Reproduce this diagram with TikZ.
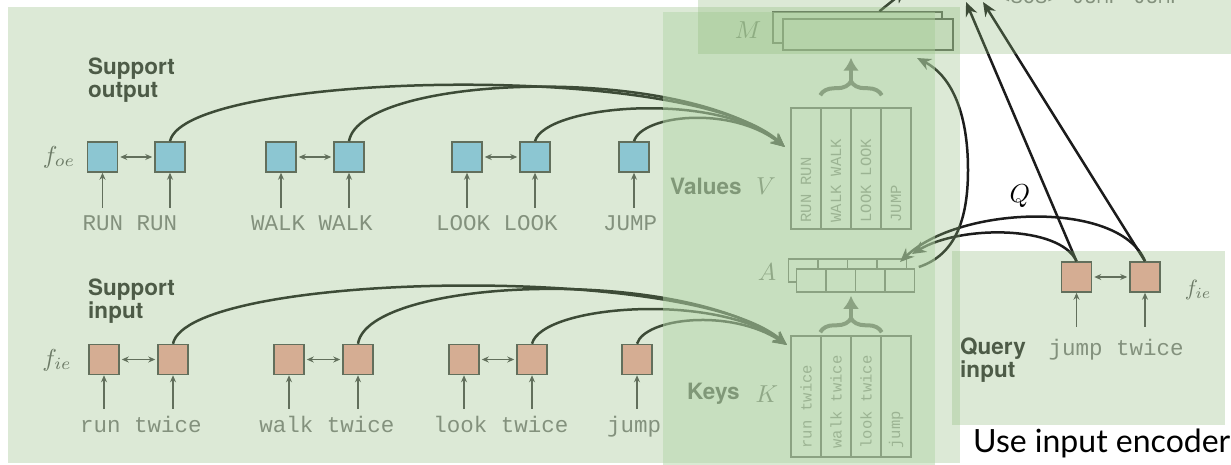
\documentclass[tikz,border=0pt]{standalone}
\usepackage{fontspec}
\newfontfamily\heros{TeX Gyre Heros}
\newfontfamily\monofont{Liberation Mono}
\newfontfamily\slidefont{Lato}
\usetikzlibrary{arrows.meta,decorations.pathreplacing,calc}

\definecolor{washgreen}{RGB}{140,185,120}
\definecolor{memgreen}{RGB}{180,214,169}
\definecolor{outblue}{RGB}{140,204,250}
\definecolor{insalmon}{RGB}{245,168,160}
\definecolor{tokgray}{RGB}{128,128,128}
\definecolor{inkgray}{RGB}{51,51,51}
\definecolor{edgegray}{RGB}{80,80,80}
\definecolor{symgray}{RGB}{95,95,95}
\definecolor{linkink}{RGB}{28,28,28}

\tikzset{
  cell/.style={draw=edgegray, line width=1.5pt, minimum width=30pt, minimum height=30pt, inner sep=0pt},
  outcell/.style={cell, fill=outblue},
  incell/.style={cell, fill=insalmon},
  tok/.style={font=\monofont\fontsize{22.5}{26}\selectfont, text=tokgray, inner sep=0pt, text height=14pt, text depth=4pt, anchor=base},
  colcell/.style={draw=edgegray, line width=1.5pt, fill=white, minimum width=30pt, minimum height=121pt, inner sep=0pt},
  coltok/.style={font=\monofont\fontsize{15.5}{18}\selectfont, text=tokgray, rotate=90, anchor=west, inner sep=0pt},
  grp/.style={font=\heros\bfseries\fontsize{22.5}{23.5}\selectfont, text=inkgray, align=left, anchor=west, inner sep=0pt},
  sym/.style={scale=2.45, text=symgray, inner sep=0pt},
  feed/.style={draw=edgegray, line width=1.5pt, -{Stealth[length=7pt,width=6pt]}},
  pair/.style={draw=edgegray, line width=1.5pt, {Stealth[length=7pt,width=6pt]}-{Stealth[length=7pt,width=6pt]}, shorten <=2pt, shorten >=2pt},
  link/.style={draw=linkink, line width=2.5pt, -{Stealth[length=14pt,width=12pt]}},
  gather/.style={draw=edgegray, line width=4pt, decorate, decoration={brace, amplitude=14pt}},
  lift/.style={draw=edgegray, line width=4pt, -{Latex[length=13pt,width=16pt]}},
  slot/.style={draw=edgegray, line width=1.5pt, fill=white, minimum width=29.5pt, minimum height=23pt, inner sep=0pt},
  wash/.style={fill=washgreen, fill opacity=0.3},
}

\begin{document}
\begin{tikzpicture}[x=1pt,y=-1pt]
\useasboundingbox (0,0) rectangle (1231,465);
\fill[white] (0,0) rectangle (1231,465);

% ---------- support output encoder ----------
\node[grp] (suplabel) at (88,80) {Support\\output};
\node[sym] (foe) at (59,157) {$f_{oe}$};
\node[outcell] (o1) at (102.5,157) {};
\node[outcell] (o2) at (170,157) {};
\node[outcell] (o3) at (281,157) {};
\node[outcell] (o4) at (349,157) {};
\node[outcell] (o5) at (467,157) {};
\node[outcell] (o6) at (535,157) {};
\node[outcell] (o7) at (634,157) {};
\draw[pair] (o1) -- (o2);
\draw[pair] (o3) -- (o4);
\draw[pair] (o5) -- (o6);

\node[tok] (tRR) at (130,230) {RUN RUN};
\node[tok] (tWW) at (312,230) {WALK WALK};
\node[tok] (tLL) at (497,230) {LOOK LOOK};
\node[tok] (tJ) at (630,230) {JUMP};
\foreach \t/\b in {tRR/o1,tRR/o2,tWW/o3,tWW/o4,tLL/o5,tLL/o6,tJ/o7}
  \draw[feed, shorten <=8pt] (\t.north -| \b) -- (\b.south);

% ---------- support input encoder ----------
\node[grp] (inlabel) at (88,301) {Support\\input};
\node[sym] (fie) at (57,360) {$f_{ie}$};
\node[incell] (i1) at (104,359.5) {};
\node[incell] (i2) at (173,359.5) {};
\node[incell] (i3) at (289,359.5) {};
\node[incell] (i4) at (358,359.5) {};
\node[incell] (i5) at (464,359.5) {};
\node[incell] (i6) at (532,359.5) {};
\node[incell] (i7) at (637,359.5) {};
\draw[pair] (i1) -- (i2);
\draw[pair] (i3) -- (i4);
\draw[pair] (i5) -- (i6);

\node[tok] (trt) at (141,432) {run twice};
\node[tok] (twt) at (327,432) {walk twice};
\node[tok] (tlt) at (501,432) {look twice};
\node[tok] (tj) at (634,432) {jump};
\foreach \t/\b in {trt/i1,trt/i2,twt/i3,twt/i4,tlt/i5,tlt/i6,tj/i7}
  \draw[feed, shorten <=9pt] (\t.north -| \b) -- (\b.south);

% ---------- memory: values and keys ----------
\node[grp] (vallabel) at (670,186) {Values};
\node[sym] (vsym) at (766,186) {$V$};
\node[grp] (keylabel) at (687,394) {Keys};
\node[sym] (ksym) at (767,394) {$K$};

\node[colcell] (v1) at (806,168.5) {};
\node[colcell] (v2) at (836,168.5) {};
\node[colcell] (v3) at (866,168.5) {};
\node[colcell] (v4) at (896,168.5) {};
\node[coltok] at ($(v1.south)+(0,-7)$) {RUN RUN};
\node[coltok] at ($(v2.south)+(0,-7)$) {WALK WALK};
\node[coltok] at ($(v3.south)+(0,-7)$) {LOOK LOOK};
\node[coltok] at ($(v4.south)+(0,-7)$) {JUMP};

\node[colcell] (k1) at (806,396.5) {};
\node[colcell] (k2) at (836,396.5) {};
\node[colcell] (k3) at (866,396.5) {};
\node[colcell] (k4) at (896,396.5) {};
\node[coltok] at ($(k1.south)+(0,-9)$) {run twice};
\node[coltok] at ($(k2.south)+(0,-9)$) {walk twice};
\node[coltok] at ($(k3.south)+(0,-9)$) {look twice};
\node[coltok] at ($(k4.south)+(0,-9)$) {jump};

% attention weights A
\node[sym] (asym) at (767,272) {$A$};
\node[slot] (ab1) at (803,270.5) {};
\node[slot] (ab2) at (832.5,270.5) {};
\node[slot] (ab3) at (862,270.5) {};
\node[slot] (ab4) at (891.5,270.5) {};
\node[slot] (af1) at (811,280.5) {};
\node[slot] (af2) at (840.5,280.5) {};
\node[slot] (af3) at (870,280.5) {};
\node[slot] (af4) at (899.5,280.5) {};

% retrieved memory M
\node[sym] (msym) at (748,30) {$M$};
\node[slot, minimum width=169pt, minimum height=31pt] (mb) at (857.5,27.5) {};
\node[slot, minimum width=170pt, minimum height=31pt] (mf) at (868,34.5) {};

% braces gathering columns
\draw[gather] ($(v2.north west)+(0,-12)$) -- ($(v3.north east)+(0,-12)$);
\coordinate (vcusp) at (851,82);
\draw[lift, shorten >=7pt] (vcusp) -- (mf.south -| vcusp);
\draw[gather] ($(k2.north west)+(0,-3)$) -- ($(k3.north east)+(0,-3)$);
\coordinate (kcusp) at (851,319);
\draw[lift, shorten >=3pt] (kcusp) -- (af2.south -| kcusp);

% ---------- links into the memory ----------
\coordinate (vtip) at (785,147);
\coordinate (ktip) at (787,345);
\draw[link] (o2.north) .. controls (185,72) and (690,60) .. (vtip);
\draw[link] (o4.north) .. controls (360,75) and (680,62) .. (vtip);
\draw[link] (o6.north) .. controls (545,105) and (715,90) .. (vtip);
\draw[link] (o7.north) .. controls (642,115) and (730,105) .. (vtip);
\draw[link] (i2.north) .. controls (188,272) and (690,262) .. (ktip);
\draw[link] (i4.north) .. controls (368,278) and (680,265) .. (ktip);
\draw[link] (i6.north) .. controls (542,305) and (715,292) .. (ktip);
\draw[link] (i7.north) .. controls (645,318) and (730,308) .. (ktip);

% ---------- query encoder ----------
\node[grp] (qlabel) at (960,360) {Query\\input};
\node[sym, scale=0.9] (fieq) at (1198,290) {$f_{ie}$};
\node[incell] (q1) at (1076.5,277) {};
\node[incell] (q2) at (1145,277) {};
\draw[pair] (q1) -- (q2);
\node[tok] (tq) at (1116,355) {jump twice};
\draw[feed, shorten <=14pt] (tq.north -| q1) -- (q1.south);
\draw[feed, shorten <=14pt] (tq.north -| q2) -- (q2.south);
\node[sym, text=black, scale=1.06] (qsym) at (1020,196) {$Q$};

\coordinate (decA) at (966,2);
\coordinate (decB) at (983,2);
\coordinate (atipA) at (900,262);
\coordinate (atipB) at (912,254);
\coordinate (mtip) at (917,58);
\coordinate (mout) at (906,-10);
\draw[link] (q1.north) -- (decA);
\draw[link] (q2.north) -- (decB);
\draw[link] (q2.north) .. controls (1120,200) and (960,205) .. (atipA);
\draw[link] (q1.north) .. controls (1060,225) and (960,225) .. (atipB);
\draw[link, shorten <=4pt] (af4.north east) .. controls (955,255) and (968,220) .. (968,170)
  .. controls (968,110) and (950,75) .. (mtip);
\draw[link] ($(mb.north)+(22,0)$) -- (mout);

% decoder tokens above
\node[font=\monofont\fontsize{20.5}{24}\selectfont, text=tokgray, anchor=base west, inner sep=0pt] (dectext) at (998,4) {<SOS> JUMP JUMP};

% ---------- translucent highlight panels ----------
\fill[wash] (8,7) rectangle (960,463);
\fill[memgreen, fill opacity=0.5] (663,12) rectangle (935,470);
\fill[wash] (698,-5) rectangle (1236,54);
\fill[wash] (952,251) rectangle (1225,425);

\node[font=\slidefont\fontsize{32}{38}\selectfont, anchor=base west, inner sep=0pt] (note) at (973,452) {Use input encoder};
\end{tikzpicture}
\end{document}
